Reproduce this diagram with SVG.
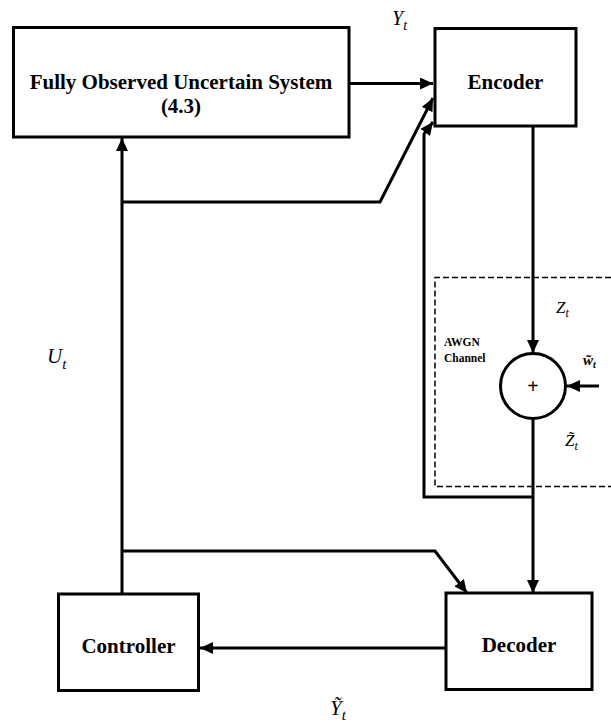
<svg xmlns="http://www.w3.org/2000/svg" width="611" height="724" viewBox="0 0 611 724">
  <style>
    .box { fill: #ffffff; stroke: #000000; stroke-width: 3; }
    .wire { fill: none; stroke: #000000; stroke-width: 3; stroke-linejoin: miter; }
    .dash { fill: none; stroke: #000000; stroke-width: 1.5; stroke-dasharray: 6 3; }
    .lbl { font-family: "Liberation Serif", "Times New Roman", serif; font-weight: bold; font-size: 21px; fill: #000; text-anchor: middle; }
    .small { font-family: "Liberation Serif", "Times New Roman", serif; font-weight: bold; font-size: 11.5px; fill: #000; }
    .math { font-family: "Liberation Serif", "Times New Roman", serif; font-style: italic; fill: #000; }
  </style>
  <defs>
    <marker id="arrow" markerUnits="userSpaceOnUse" markerWidth="14" markerHeight="12" refX="13" refY="6" orient="auto">
      <path d="M0,0 L13,6 L0,12 z" fill="#000"/>
    </marker>
  </defs>
  <rect x="0" y="0" width="611" height="724" fill="#ffffff"/>

  <!-- AWGN channel region -->
  <g id="awgn-channel">
    <path class="dash" d="M620,277.5 L435,277.5 L435,486.5 L620,486.5"/>
    <text class="small" x="444" y="346">AWGN</text>
    <text class="small" x="444" y="362">Channel</text>
  </g>

  <g id="connectors">
    <!-- System -> Encoder (Y_t) -->
    <line class="wire" x1="349" y1="83.5" x2="433" y2="83.5" marker-end="url(#arrow)"/>
    <!-- Controller -> System (U_t) -->
    <line class="wire" x1="122" y1="594" x2="122" y2="138" marker-end="url(#arrow)"/>
    <!-- U_t branch to Encoder -->
    <polyline class="wire" points="122,202 380,202 433,98" marker-end="url(#arrow)"/>
    <!-- Encoder -> sum (Z_t) -->
    <line class="wire" x1="533" y1="126" x2="533" y2="353" marker-end="url(#arrow)"/>
    <!-- noise w_t -> sum -->
    <line class="wire" x1="599" y1="386" x2="567" y2="386" marker-end="url(#arrow)"/>
    <!-- sum -> Decoder (Z~_t) -->
    <line class="wire" x1="533" y1="419" x2="533" y2="593" marker-end="url(#arrow)"/>
    <!-- Z~_t feedback to Encoder -->
    <polyline class="wire" points="533,497 424,497 424,134 433,122" marker-end="url(#arrow)"/>
    <!-- U_t branch to Decoder -->
    <polyline class="wire" points="122,551 435,551 467,593" marker-end="url(#arrow)"/>
    <!-- Decoder -> Controller (Y~_t) -->
    <line class="wire" x1="446" y1="648" x2="200" y2="648" marker-end="url(#arrow)"/>
  </g>

  <g id="system">
    <rect class="box" x="13.5" y="27.5" width="335.5" height="109.5"/>
    <text class="lbl" x="181" y="89">Fully Observed Uncertain System</text>
    <text class="lbl" x="181" y="113">(4.3)</text>
  </g>

  <g id="encoder">
    <rect class="box" x="435" y="28.5" width="141" height="97.5"/>
    <text class="lbl" x="505.5" y="89">Encoder</text>
  </g>

  <g id="sum">
    <circle cx="533" cy="386" r="32.5" fill="#ffffff" stroke="#000" stroke-width="3"/>
    <text class="lbl" x="533" y="393" style="font-size:20px">+</text>
  </g>

  <g id="controller">
    <rect class="box" x="58.5" y="594" width="140" height="96.5"/>
    <text class="lbl" x="128.5" y="653">Controller</text>
  </g>

  <g id="decoder">
    <rect class="box" x="446" y="593" width="146" height="96.5"/>
    <text class="lbl" x="519" y="652">Decoder</text>
  </g>

  <g id="labels">
    <text class="math" x="392" y="25" font-size="20">Y<tspan font-size="14" dy="5">t</tspan></text>
    <text class="math" x="47" y="363" font-size="21">U<tspan font-size="15" dy="6">t</tspan></text>
    <text class="math" x="556" y="313" font-size="17">Z<tspan font-size="12" dy="4">t</tspan></text>
    <text class="math" x="583" y="365" font-size="15" font-weight="bold">w̃<tspan font-size="10" dy="3">t</tspan></text>
    <text class="math" x="565" y="446" font-size="17">Z̃<tspan font-size="12" dy="4">t</tspan></text>
    <text class="math" x="330" y="715" font-size="21">Ỹ<tspan font-size="15" dy="5">t</tspan></text>
  </g>
</svg>
